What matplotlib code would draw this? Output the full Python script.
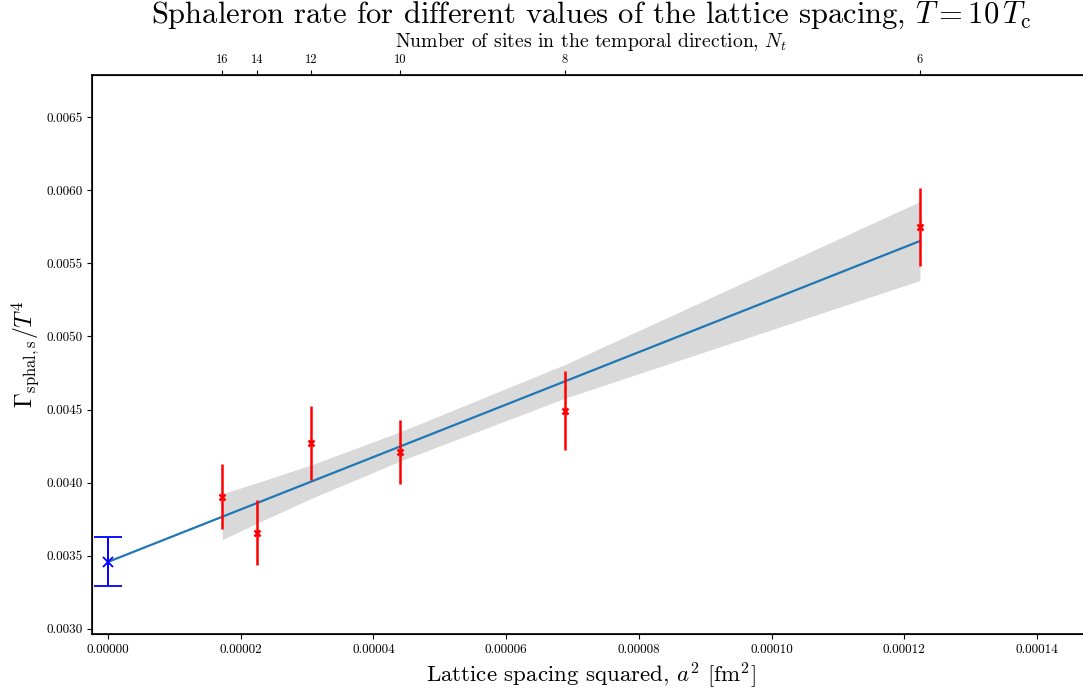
import matplotlib
matplotlib.use("Agg")
import matplotlib.pyplot as plt
from matplotlib.ticker import FormatStrFormatter

plt.rcParams["font.family"] = "serif"
plt.rcParams["font.serif"] = ["cmr10"]
plt.rcParams["mathtext.fontset"] = "cm"
plt.rcParams["axes.formatter.use_mathtext"] = True

# Data.
nt = [16, 14, 12, 10, 8, 6]
a2 = [1.7207e-5, 2.247e-5, 3.059e-5, 4.405e-5, 6.883e-5, 1.2236e-4]
rate = [0.003902, 0.003656, 0.004271, 0.004210, 0.004490, 0.005748]
rate_err = [0.000222, 0.000222, 0.000256, 0.000220, 0.000270, 0.000267]

# Continuum extrapolation
cont_x = [0.0]
cont_y = [0.003458]
cont_err = [0.000167]

fit_x = [0.0, 1.2236e-4]
fit_y = [0.003458, 0.005652]

band_lo = [0.003610, 0.003723, 0.003891, 0.004148, 0.004577, 0.005382]
band_hi = [0.003924, 0.003999, 0.004121, 0.004348, 0.004807, 0.005922]

xticks = [0, 2e-5, 4e-5, 6e-5, 8e-5, 1e-4, 1.2e-4, 1.4e-4]
yticks = [0.0030, 0.0035, 0.0040, 0.0045, 0.0050, 0.0055, 0.0060, 0.0065]

fig = plt.figure(figsize=(10.83, 6.95), dpi=100)
ax = fig.add_axes([0.085, 0.088, 0.9215, 0.804])

ax.fill_between(a2, band_lo, band_hi, color="#d9d9d9", linewidth=0, zorder=1)
ax.plot(fit_x, fit_y, color="#1f77b4", linewidth=1.6, zorder=2)
ax.errorbar(a2, rate, yerr=rate_err, fmt="x", color="red", ecolor="red",
            markersize=4, markeredgewidth=1.8, elinewidth=1.8, zorder=3)
ax.errorbar(cont_x, cont_y, yerr=cont_err, fmt="x", color="blue",
            markersize=7, markeredgewidth=1.3, elinewidth=1.4, capsize=10,
            capthick=1.4, zorder=3)

ax.set_xlim(-2.41e-6, 1.480e-4)
ax.set_ylim(0.002966, 0.006787)
ax.set_xticks(xticks)
ax.set_yticks(yticks)
ax.xaxis.set_major_formatter(FormatStrFormatter("%.5f"))
ax.yaxis.set_major_formatter(FormatStrFormatter("%.4f"))
ax.tick_params(labelsize=9.5)
for s in ax.spines.values():
    s.set_linewidth(1.2)

ax.set_xlabel(r"Lattice spacing squared, $a^2$ [fm$^2$]", fontsize=16.5)
ax.set_ylabel(r"$\Gamma_{\mathrm{sphal,s}}/T^4$", fontsize=17)

top = ax.twiny()
top.set_xlim(ax.get_xlim())
top.set_xticks(a2)
top.set_xticklabels([str(n) for n in nt])
top.tick_params(labelsize=9, pad=3)
top.set_xlabel(r"Number of sites in the temporal direction, $N_t$", fontsize=14.2, labelpad=5)
top.set_title(r"Sphaleron rate for different values of the lattice spacing, $T = 10\,T_\mathrm{c}$",
              fontsize=22, pad=1)

fig.savefig("out.png", dpi=100)
